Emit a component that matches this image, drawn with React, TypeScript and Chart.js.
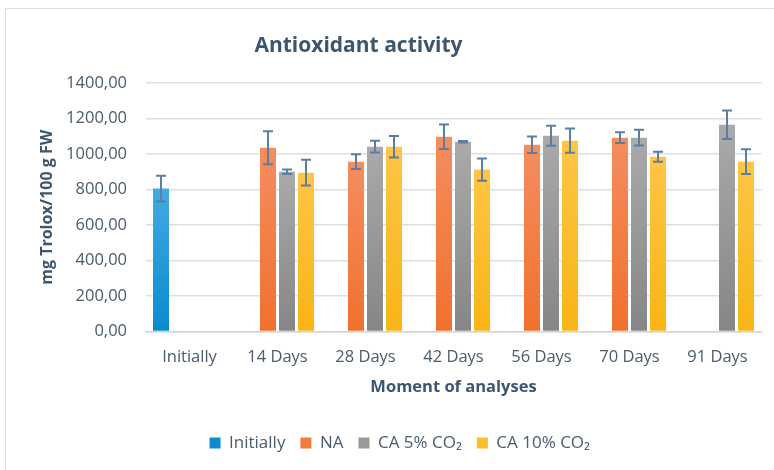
import React, { useEffect, useRef } from "react";
import { Chart, registerables } from "chart.js";

Chart.register(...registerables);

const categories = ["Initially", "14 Days", "28 Days", "42 Days", "56 Days", "70 Days", "91 Days"];
const seriesNames = ["Initially", "NA", "CA 5% CO₂", "CA 10% CO₂"];

const initiallyValues = [805, null, null, null, null, null, null];
const naValues = [null, 1035, 957, 1097, 1052, 1092, null];
const ca5Values = [null, 900, 1041, 1069, 1103, 1092, 1165];
const ca10Values = [null, 895, 1041, 912, 1075, 985, 957];

const initiallyErrors = [72, null, null, null, null, null, null];
const naErrors = [null, 93, 41, 69, 46, 30, null];
const ca5Errors = [null, 12, 33, 4, 56, 44, 80];
const ca10Errors = [null, 73, 61, 62, 68, 28, 70];

const yMin = 0;
const yMax = 1400;
const yStep = 200;

const chartTitle = "Antioxidant activity";
const yAxisTitle = "mg Trolox/100 g FW";
const xAxisTitle = "Moment of analyses";

const FONT = "'Open Sans', 'DejaVu Sans', sans-serif";
const TEXT = "#4a5b6d";
const TITLE = "#3d5670";

const palettes = [
  { top: "#42aae3", bottom: "#0a8bcf", solid: "#1a96d8" },
  { top: "#f58d5e", bottom: "#f0712e", solid: "#f27b3e" },
  { top: "#aaaaaa", bottom: "#868686", solid: "#999999" },
  { top: "#ffc545", bottom: "#f8b516", solid: "#fcbd2a" },
];

const allValues = [initiallyValues, naValues, ca5Values, ca10Values];
const allErrors = [initiallyErrors, naErrors, ca5Errors, ca10Errors];

function barFill(seriesIndex: number) {
  return (c: any) => {
    const p = palettes[seriesIndex];
    const chart = c.chart;
    const v = c.raw;
    if (!chart.chartArea || v == null || typeof v !== "number" || !chart.scales || !chart.scales.y) return p.solid;
    const ys = chart.scales.y;
    const top = ys.getPixelForValue(v);
    const bottom = ys.getPixelForValue(0);
    if (!isFinite(top) || !isFinite(bottom) || top === bottom) return p.solid;
    const g = chart.ctx.createLinearGradient(0, top, 0, bottom);
    g.addColorStop(0, p.top);
    g.addColorStop(1, p.bottom);
    return g;
  };
}

const errorBarsPlugin = {
  id: "errorBars",
  afterDatasetsDraw(chart: any) {
    const ctx = chart.ctx;
    const ys = chart.scales.y;
    chart.data.datasets.forEach((ds: any, i: number) => {
      const meta = chart.getDatasetMeta(i);
      const errs = allErrors[i];
      meta.data.forEach((bar: any, j: number) => {
        const v = ds.data[j];
        const e = errs[j];
        if (v == null || e == null) return;
        const x = bar.x;
        const yt = ys.getPixelForValue(v + e);
        const yb = ys.getPixelForValue(v - e);
        ctx.save();
        ctx.strokeStyle = "#5a7fa2";
        ctx.lineWidth = 2;
        ctx.beginPath();
        ctx.moveTo(x, yt);
        ctx.lineTo(x, yb);
        ctx.moveTo(x - 5, yt);
        ctx.lineTo(x + 5, yt);
        ctx.moveTo(x - 5, yb);
        ctx.lineTo(x + 5, yb);
        ctx.stroke();
        ctx.restore();
      });
    });
  },
};

const titlePlugin = {
  id: "freeTitle",
  afterDraw(chart: any) {
    const ctx = chart.ctx;
    ctx.save();
    ctx.font = `bold 21px ${FONT}`;
    ctx.fillStyle = TITLE;
    ctx.textAlign = "center";
    ctx.textBaseline = "alphabetic";
    ctx.fillText(chartTitle, 358.5, 52);
    ctx.restore();
  },
};

export default function App() {
  const canvasRef = useRef<HTMLCanvasElement | null>(null);

  useEffect(() => {
    if (!canvasRef.current) return;
    const chart = new Chart(canvasRef.current, {
      type: "bar",
      data: {
        labels: categories,
        datasets: seriesNames.map((name, i) => ({
          label: name,
          data: allValues[i],
          backgroundColor: barFill(i),
          borderWidth: 0,
          categoryPercentage: 0.8636,
          barPercentage: 0.842,
        })),
      },
      options: {
        responsive: false,
        animation: false,
        devicePixelRatio: 1,
        layout: { padding: { top: 83, left: 38, right: 12.5, bottom: 8.5 } },
        plugins: {
          title: { display: false },
          tooltip: { enabled: false },
          legend: {
            position: "bottom",
            labels: {
              boxWidth: 11,
              boxHeight: 11,
              padding: 15,
              color: TEXT,
              font: { family: FONT, size: 17 },
            },
          },
        },
        scales: {
          x: {
            grid: { display: false, drawTicks: false },
            border: { display: true, color: "#cdd7df", width: 1.5 },
            ticks: {
              color: TEXT,
              padding: 15.6,
              maxRotation: 0,
              autoSkip: false,
              font: { family: FONT, size: 16.5 },
            },
            title: {
              display: true,
              text: xAxisTitle,
              color: TITLE,
              font: { family: FONT, size: 16.5, weight: "bold" },
              padding: { top: -5.4, bottom: 22.6 },
            },
          },
          y: {
            min: yMin,
            max: yMax,
            grid: { color: "#d9e1e8", lineWidth: 1.5, drawTicks: false },
            border: { display: false },
            ticks: {
              stepSize: yStep,
              color: TEXT,
              padding: 18.5,
              font: { family: FONT, size: 16.5 },
              callback: (v: any) => Number(v).toFixed(2).replace(".", ","),
            },
            title: {
              display: true,
              text: yAxisTitle,
              color: TITLE,
              font: { family: FONT, size: 16, weight: "bold" },
              padding: { top: 0, bottom: 0 },
            },
            afterFit: (s: any) => {
              s.width = 107.5;
            },
          },
        },
      },
      plugins: [errorBarsPlugin, titlePlugin],
    } as any);
    return () => chart.destroy();
  }, []);

  return (
    <div style={{ position: "fixed", left: 0, top: 0, width: 774, height: 470, overflow: "hidden", background: "#fff" }}>
      <div
        style={{
          position: "absolute",
          left: 5,
          top: 8,
          width: 820,
          height: 520,
          border: "1.5px solid #d6e1ea",
          boxSizing: "border-box",
        }}
      />
      <canvas ref={canvasRef} width={774} height={470} style={{ position: "absolute", left: 0, top: 0 }} />
    </div>
  );
}
